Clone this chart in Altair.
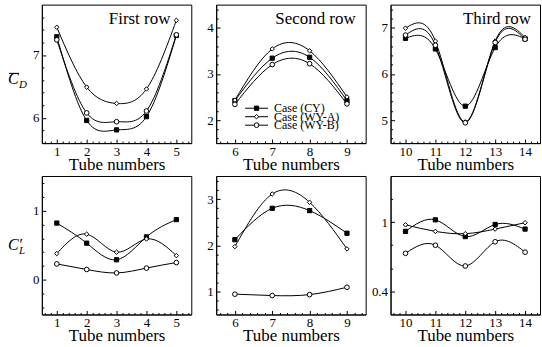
import math
import altair as alt
import numpy as np
import pandas as pd

FONT = "Liberation Serif"

cases = ["CY", "WY-A", "WY-B"]
case_labels = ["Case (CY)", "Case (WY-A)", "Case (WY-B)"]
shapes = ["square", "diamond", "circle"]
fills = ["black", "white", "white"]
sizes = [18, 22, 34]

tubes_r1 = [1, 2, 3, 4, 5]
tubes_r2 = [6, 7, 8, 9]
tubes_r3 = [10, 11, 12, 13, 14]

# Mean drag coefficient
cd_r1_cy = [7.29, 5.96, 5.81, 6.02, 7.31]
cd_r1_wya = [7.44, 6.49, 6.23, 6.46, 7.55]
cd_r1_wyb = [7.24, 6.08, 5.94, 6.11, 7.32]

cd_r2_cy = [2.42, 3.34, 3.36, 2.42]
cd_r2_wya = [2.43, 3.54, 3.50, 2.50]
cd_r2_wyb = [2.34, 3.20, 3.22, 2.35]

cd_r3_cy = [6.77, 6.54, 5.30, 6.57, 6.76]
cd_r3_wya = [6.99, 6.71, 4.96, 6.71, 6.79]
cd_r3_wyb = [6.84, 6.62, 4.94, 6.68, 6.75]

# Fluctuating lift coefficient
cl_r1_cy = [0.82, 0.53, 0.29, 0.62, 0.87]
cl_r1_wya = [0.38, 0.66, 0.40, 0.59, 0.35]
cl_r1_wyb = [0.23, 0.15, 0.10, 0.17, 0.25]

cl_r2_cy = [2.12, 2.80, 2.75, 2.26]
cl_r2_wya = [1.97, 3.11, 2.93, 1.92]
cl_r2_wyb = [0.94, 0.91, 0.93, 1.09]

cl_r3_cy = [0.92, 1.02, 0.875, 0.98, 0.94]
cl_r3_wya = [0.977, 0.92, 0.90, 0.94, 0.995]
cl_r3_wyb = [0.73, 0.80, 0.62, 0.83, 0.74]

notes = ["First row", "Second row", "Third row"]

W, H = 150, 139


def split_ticks(dom, base, step, minor=0.2):
    start = math.ceil(dom[0] / minor - 1e-9) * minor
    vals = [float(v) for v in np.round(np.arange(start, dom[1] + 1e-9, minor), 4)
            if dom[0] + 1e-6 < v < dom[1] - 1e-6]
    maj, mnr = [], []
    for v in vals:
        k = (v - base) / step
        (maj if abs(k - round(k)) < 1e-3 else mnr).append(v)
    return maj, mnr


def panel(tubes, series, xdom, ydom, ybase, ystep, note=None, note_x=None,
          legend=False, ytitle=None):
    df = pd.DataFrame({
        "tube": list(tubes) * 3,
        "value": [v for s in series for v in s],
        "case": [c for c in cases for _ in tubes],
    })
    xmaj, xmin = split_ticks(xdom, 0, 1)
    ymaj, ymin = split_ticks(ydom, ybase, ystep)
    xs = alt.Scale(domain=xdom, nice=False, zero=False)
    ys = alt.Scale(domain=ydom, nice=False, zero=False)
    xaxis = alt.Axis(orient="bottom", values=xmaj, title="Tube numbers", grid=False,
                     tickSize={"expr": "-4"}, format="d",
                     labelOverlap=False, labelFlush=False, labelBound=False,
                     labelPadding=6, titlePadding=-2)
    yaxis = alt.Axis(orient="left", values=ymaj, title=None, grid=False,
                     tickSize={"expr": "-4"}, format="~g",
                     labelOverlap=False, labelFlush=False, labelBound=False,
                     labelPadding=7)
    xaxis2 = alt.Axis(orient="bottom", values=xmin, title=None, grid=False, labels=False,
                      domain=False, tickSize={"expr": "-2"})
    yaxis2 = alt.Axis(orient="left", values=ymin, title=None, grid=False, labels=False,
                      domain=False, tickSize={"expr": "-2"})
    shape = alt.Shape("case:N", scale=alt.Scale(domain=cases, range=shapes), legend=None)
    fill = alt.Fill("case:N", scale=alt.Scale(domain=cases, range=fills), legend=None)
    size = alt.Size("case:N", scale=alt.Scale(domain=cases, range=sizes), legend=None)

    base = alt.Chart(df)
    lines = base.mark_line(interpolate="natural", color="black", strokeWidth=1).encode(
        x=alt.X("tube:Q", scale=xs, axis=xaxis),
        y=alt.Y("value:Q", scale=ys, axis=yaxis), detail="case:N")
    pts = base.mark_point(filled=True, stroke="black", strokeWidth=1, opacity=1).encode(
        x=alt.X("tube:Q", scale=xs, axis=xaxis2),
        y=alt.Y("value:Q", scale=ys, axis=yaxis2),
        shape=shape, fill=fill, size=size)
    layers = [lines, pts]

    if note:
        layers.append(
            alt.Chart(pd.DataFrame({"t": [note]})).mark_text(
                font=FONT, fontSize=17, align="right", baseline="alphabetic", color="black"
            ).encode(text="t:N", x=alt.value(note_x), y=alt.value(19))
        )

    if ytitle == "cd":
        t = pd.DataFrame({"t": ["C"], "s": ["D"]})
        layers.append(alt.Chart(t).mark_text(font=FONT, fontSize=16, fontStyle="italic",
                                             align="left", baseline="alphabetic", color="black"
                                             ).encode(text="t:N", x=alt.value(-34), y=alt.value(80)))
        layers.append(alt.Chart(t).mark_text(font=FONT, fontSize=11, fontStyle="italic",
                                             align="left", baseline="alphabetic", color="black"
                                             ).encode(text="s:N", x=alt.value(-23), y=alt.value(84)))
        layers.append(alt.Chart(t).mark_rule(color="black", strokeWidth=1).encode(
            x=alt.value(-33), x2=alt.value(-23), y=alt.value(69)))
    elif ytitle == "cl":
        t = pd.DataFrame({"t": ["C′"], "s": ["L"]})
        layers.append(alt.Chart(t).mark_text(font=FONT, fontSize=16, fontStyle="italic",
                                             align="left", baseline="alphabetic", color="black"
                                             ).encode(text="t:N", x=alt.value(-34), y=alt.value(74)))
        layers.append(alt.Chart(t).mark_text(font=FONT, fontSize=11, fontStyle="italic",
                                             align="left", baseline="alphabetic", color="black"
                                             ).encode(text="s:N", x=alt.value(-23), y=alt.value(78)))

    if legend:
        ldf = pd.DataFrame({"case": cases, "label": case_labels, "idx": [0, 1, 2]})
        ly = alt.Y("idx:Q", scale=alt.Scale(domain=[0, 2], range=[104, 121]), axis=None)
        lb = alt.Chart(ldf)
        layers.append(lb.mark_rule(color="black", strokeWidth=1).encode(
            x=alt.value(29), x2=alt.value(52), y=ly))
        layers.append(lb.mark_point(filled=True, stroke="black", strokeWidth=1, opacity=1).encode(
            x=alt.value(40.5), y=ly, shape=shape, fill=fill, size=size))
        layers.append(lb.mark_text(font=FONT, fontSize=12, align="left", baseline="middle",
                                   color="black").encode(x=alt.value(58), y=ly, text="label:N"))

    ch = alt.layer(*layers).properties(width=W, height=H)
    if legend:
        ch = ch.resolve_scale(y="independent")
    ch = ch.resolve_axis(x="independent", y="independent")
    return ch


p1 = panel(tubes_r1, [cd_r1_cy, cd_r1_wya, cd_r1_wyb], [0.5, 5.5], [5.6, 7.8], 0, 1,
           notes[0], 129, ytitle="cd")
p2 = panel(tubes_r2, [cd_r2_cy, cd_r2_wya, cd_r2_wyb], [5.5, 9.5], [1.5, 4.5], 0, 1,
           notes[1], 140, legend=True)
p3 = panel(tubes_r3, [cd_r3_cy, cd_r3_wya, cd_r3_wyb], [9.5, 14.5], [4.5, 7.5], 0, 1,
           notes[2], 141)
p4 = panel(tubes_r1, [cl_r1_cy, cl_r1_wya, cl_r1_wyb], [0.5, 5.5], [-0.5, 1.5], 0, 1,
           ytitle="cl")
p5 = panel(tubes_r2, [cl_r2_cy, cl_r2_wya, cl_r2_wyb], [5.5, 9.5], [0.5, 3.5], 0, 1)
p6 = panel(tubes_r3, [cl_r3_cy, cl_r3_wya, cl_r3_wyb], [9.5, 14.5], [0.2, 1.4], 0.4, 0.6)

chart = alt.concat(p1, p2, p3, p4, p5, p6, columns=3,
                   spacing={"row": 33, "column": 25}, bounds="flush").properties(
    padding={"left": 7, "top": 3, "right": 1, "bottom": 0},
    background="white",
).configure_view(
    stroke="black", strokeWidth=1
).configure_axis(
    domainColor="black", tickColor="black", labelColor="black", titleColor="black",
    labelFont=FONT, titleFont=FONT, labelFontSize=13, titleFontSize=17,
    titleFontWeight="normal", domainWidth=1, tickWidth=1,
)

chart.save("out.html", embed_options={"renderer": "svg", "actions": False})
